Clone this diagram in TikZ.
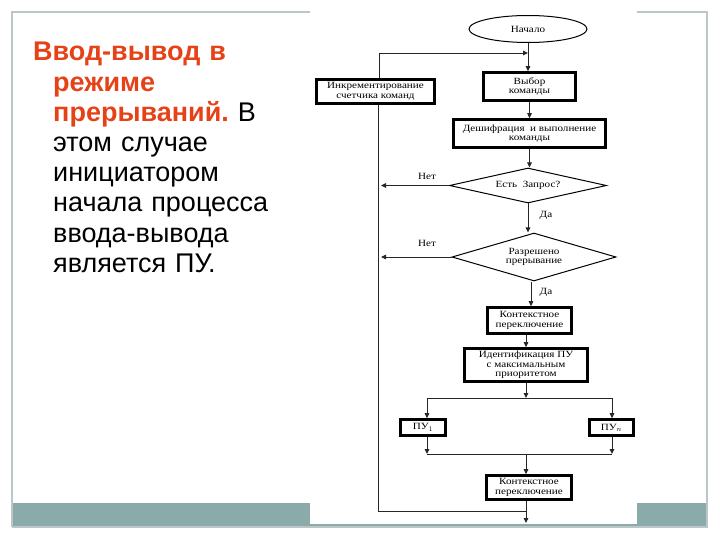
\documentclass[tikz,border=0pt]{standalone}
\usepackage{fontspec}
\setmainfont{Liberation Sans}
\newfontfamily\chartfont[FakeStretch=1.17]{Liberation Serif}
\usetikzlibrary{shapes.geometric,arrows.meta}
\definecolor{frameg}{RGB}{188,198,198}
\definecolor{tealband}{RGB}{139,171,171}
\definecolor{redt}{RGB}{230,66,24}
\begin{document}
\begin{tikzpicture}[x=1pt,y=-1pt,
  chart/.style={font=\chartfont\fontsize{9.5}{9.5}\selectfont, align=center, inner sep=0pt},
  thickbox/.style={chart, draw, line width=2.6pt, rectangle},
  thinshape/.style={chart, draw, line width=1pt},
  conn/.style={line width=0.9pt, draw=black!85},
  arr/.style={conn, -{Triangle[length=5pt,width=4.5pt]}},
  lbl/.style={chart}
]
\useasboundingbox (0,0) rectangle (720,540);
% slide frame
\fill[tealband] (12,503) rectangle (707,526);
\draw[frameg, line width=1.2pt] (12,527) -- (12,12) -- (707,12) -- (707,527) -- (12,527);
% picture area
\fill[white] (310,0) rectangle (637,524);

% text
\node[anchor=base west, inner sep=0pt, text width=270pt, font=\fontsize{27}{30.2}\selectfont] (txt) at (33,61)
  {\raggedright\frenchspacing\leftskip=20pt\hspace*{-20pt}%
   {\color{redt}\bfseries Ввод-вывод в\\ режиме\\ прерываний.} В\\ этом случае\\ инициатором\\ начала процесса\\ ввода-вывода\\ является ПУ.\par};

% flowchart nodes
\node[thinshape, ellipse, minimum width=118pt, minimum height=27pt] (start) at (528,29) {Начало};
\node[thickbox, minimum width=92pt, minimum height=28pt] (fetch) at (529.5,86.5) {Выбор\\команды};
\node[thickbox, minimum width=118pt, minimum height=24pt] (inc) at (375.5,91.5) {Инкрементирование\\счетчика команд};
\node[thickbox, minimum width=152pt, minimum height=28pt] (dec) at (529.5,133.5) {Дешифрация\ \ и выполнение\\команды};
\node[thinshape, diamond, shape aspect=4.5, minimum width=157pt, minimum height=35pt] (q1) at (528,185.5) {Есть\ \ Запрос?};
\node[thinshape, diamond, shape aspect=3.4, minimum width=164pt, minimum height=48pt] (q2) at (534,257) {Разрешено\\прерывание};
\node[thickbox, minimum width=84pt, minimum height=26pt] (ctx1) at (529.5,320.5) {Контекстное\\переключение};
\node[thickbox, minimum width=123pt, minimum height=33pt] (ident) at (526,365) {Идентификация ПУ\\с максимальным\\приоритетом};
\node[thickbox, minimum width=45pt, minimum height=16pt] (pu1) at (423,427.5) {ПУ$_1$};
\node[thickbox, minimum width=44pt, minimum height=16pt] (pun) at (611.5,427.5) {ПУ$_n$};
\node[thickbox, minimum width=85pt, minimum height=24pt] (ctx2) at (529,487.5) {Контекстное\\переключение};

% labels
\node[lbl] (no1) at (427,176) {Нет};
\node[lbl] (no2) at (427,243) {Нет};
\node[lbl] (yes1) at (546,215) {Да};
\node[lbl] (yes2) at (546,292) {Да};

% helper coordinates
\coordinate (j0) at (528,53);
\coordinate (lv) at (381,300);
\coordinate (j5) at (526,511);
\coordinate (sL) at (427,398);
\coordinate (sR) at (612,398);
\coordinate (sM) at (526,398);
\coordinate (mL) at (427,454);
\coordinate (mR) at (612,454);
\coordinate (mM) at (526,454);
\coordinate (exit) at (526,523);

% connectors
\draw[arr] (start.south) -- (start.south |- fetch.north);
\draw[arr] ([xshift=4pt]inc.north) |- (j0);
\draw[arr] (fetch.south) -- (fetch.south |- dec.north);
\draw[arr] (dec.south) -- (dec.south |- q1.north);
\draw[arr] (q1.west) -- (q1.west -| lv);
\draw[arr] (q1.south) -- (q1.south |- q2.north);
\draw[arr] (q2.west) -- (q2.west -| lv);
\draw[arr] ([xshift=-3pt]q2.south) -- ([xshift=-3pt]q2.south |- ctx1.north);
\draw[arr] ([xshift=-3.5pt]ctx1.south) -- ([xshift=-3.5pt]ctx1.south |- ident.north);
\draw[arr] (ident.south) -- (sM);
\draw[conn] (sL) -- (sR);
\draw[arr] (sL) -- (sL |- pu1.north);
\draw[arr] (sR) -- (sR |- pun.north);
\draw[arr] (mL |- pu1.south) -- (mL);
\draw[arr] (mR |- pun.south) -- (mR);
\draw[conn] (mL) -- (mR);
\draw[arr] (mM) -- (mM |- ctx2.north);
\draw[conn] ([xshift=2.5pt]inc.south) |- (j5);
\draw[arr] ([xshift=-3pt]ctx2.south) -- (exit);
\end{tikzpicture}
\end{document}
